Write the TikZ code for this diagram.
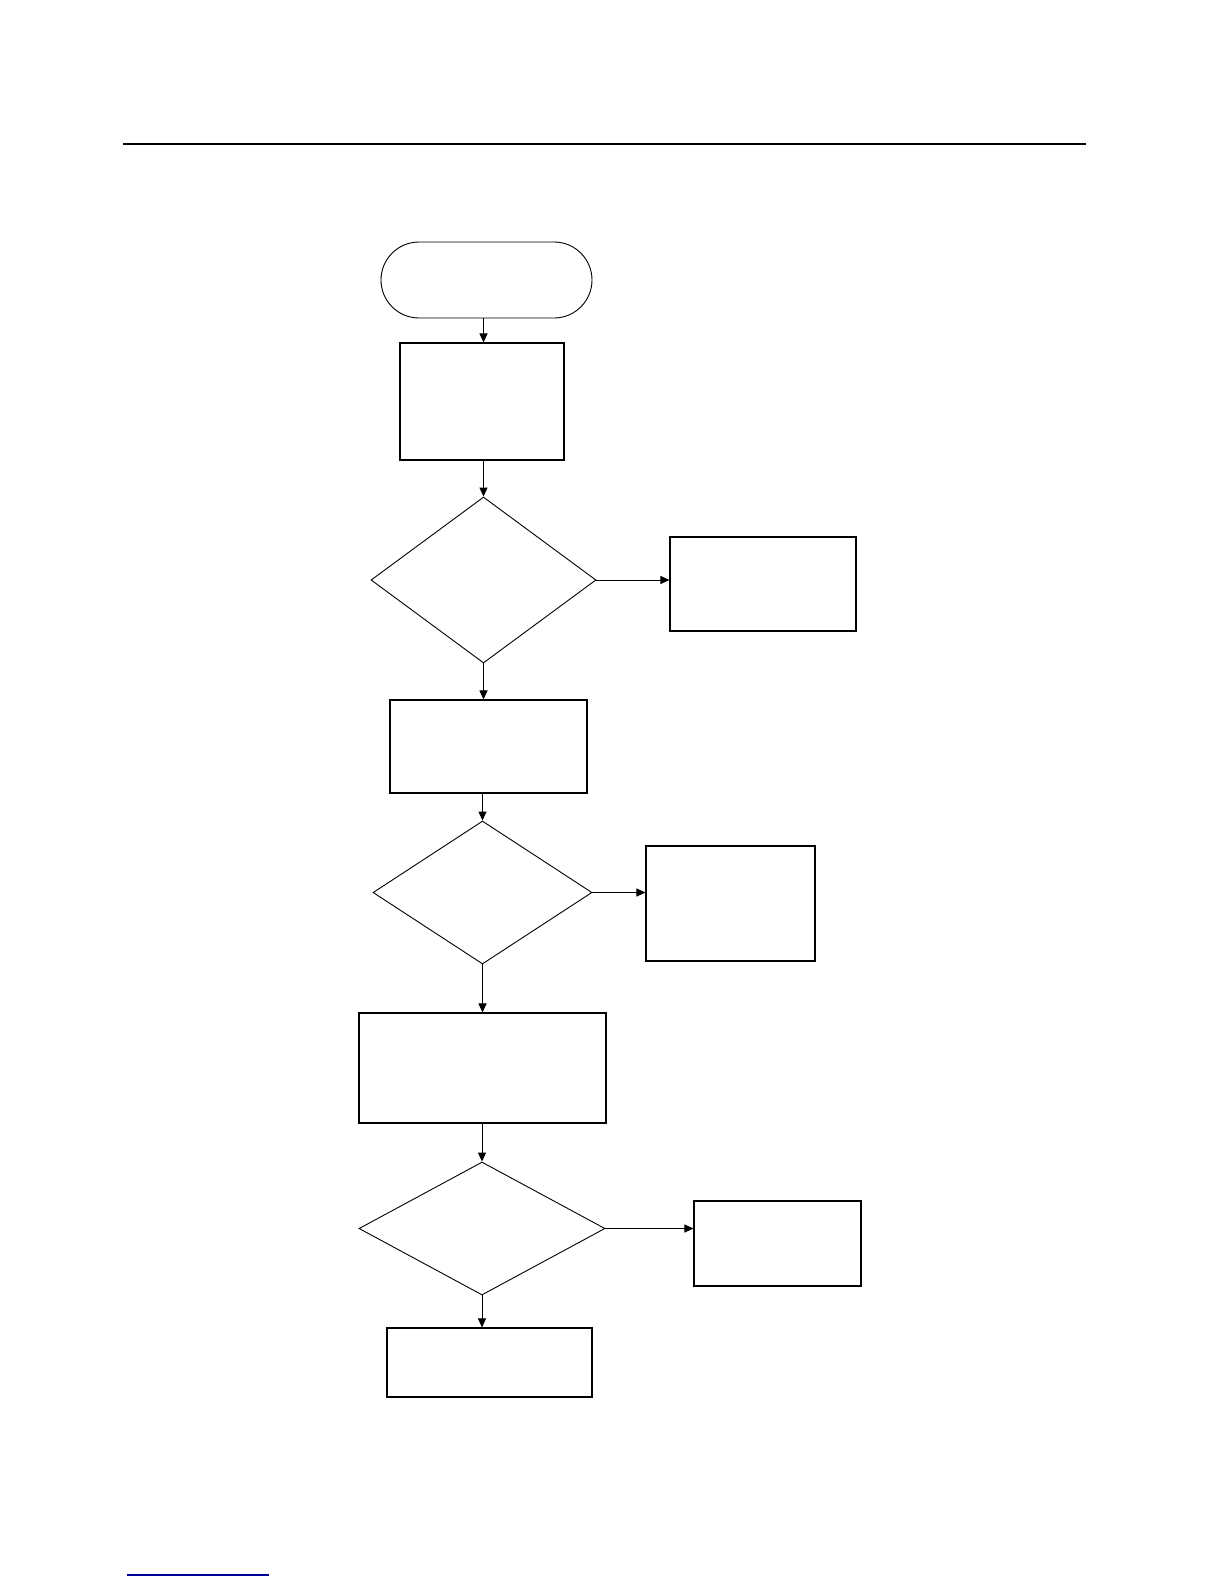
\documentclass[tikz,border=0pt]{standalone}
\usetikzlibrary{shapes.geometric,arrows.meta}
\begin{document}
\begin{tikzpicture}[x=1pt,y=-1pt,
  boxnode/.style={draw, line width=1.1pt, inner sep=0pt, rectangle},
  termnode/.style={draw, line width=0.9pt, inner sep=0pt, rectangle, rounded corners=38pt},
  decnode/.style={draw, line width=0.9pt, inner sep=0pt, diamond},
  arr/.style={line width=1pt, -{Triangle[length=9pt,width=8pt]}}]
\useasboundingbox (0,0) rectangle (1224,1584);
\fill[white] (0,0) rectangle (1224,1584);
% header rule and footer line
\coordinate (hl) at (123,144);
\coordinate (hr) at (1086,144);
\draw[line width=2.2pt] (hl) -- (hr);
\coordinate (fl) at (127,1575);
\coordinate (fr) at (269,1575);
\draw[line width=1.2pt, blue!60!black] (fl) -- (fr);
% nodes
\node[termnode, minimum width=211pt, minimum height=76pt] (term) at (486.5,280) {};
\node[boxnode, minimum width=164pt, minimum height=117pt] (b1) at (482,401.5) {};
\node[decnode, minimum width=225pt, minimum height=166pt] (d1) at (483.5,580) {};
\node[boxnode, minimum width=186pt, minimum height=94pt] (s1) at (763,584) {};
\node[boxnode, minimum width=197pt, minimum height=93pt] (b2) at (488.5,746.5) {};
\node[decnode, minimum width=219pt, minimum height=143pt] (d2) at (482.5,892.5) {};
\node[boxnode, minimum width=169pt, minimum height=115pt] (s2) at (730.5,903.5) {};
\node[boxnode, minimum width=247pt, minimum height=110pt] (b3) at (482.5,1068) {};
\node[decnode, minimum width=246pt, minimum height=133pt] (d3) at (482,1228.5) {};
\node[boxnode, minimum width=167pt, minimum height=85pt] (s3) at (777.5,1243.5) {};
\node[boxnode, minimum width=205pt, minimum height=69pt] (b4) at (489.5,1362.5) {};
% connectors
\draw[arr] (term.south -| d1.north) -- (b1.north -| d1.north);
\draw[arr] (b1.south -| d1.north) -- (d1.north);
\draw[arr] (d1.east) -- (s1.west |- d1.east);
\draw[arr] (d1.south) -- (b2.north -| d1.south);
\draw[arr] (b2.south -| d2.north) -- (d2.north);
\draw[arr] (d2.east) -- (s2.west |- d2.east);
\draw[arr] (d2.south) -- (b3.north -| d2.south);
\draw[arr] (b3.south -| d3.north) -- (d3.north);
\draw[arr] (d3.east) -- (s3.west |- d3.east);
\draw[arr] (d3.south) -- (b4.north -| d3.south);
\end{tikzpicture}
\end{document}
